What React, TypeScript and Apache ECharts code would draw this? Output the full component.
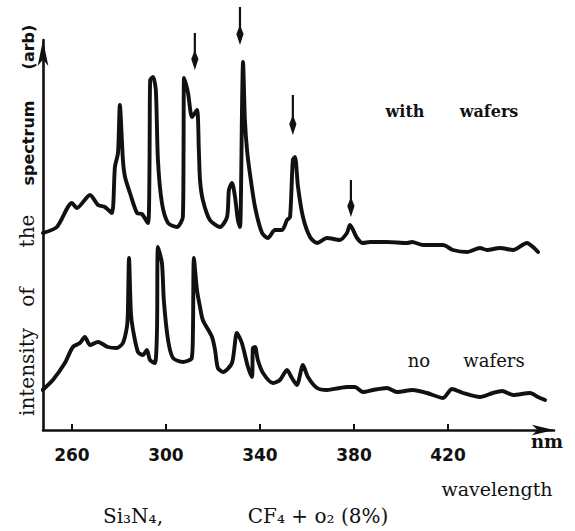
import React, { useEffect, useRef } from "react";
import * as echarts from "echarts";

// wavelength (nm) and intensity (arb)
const withWavelength = [247.7, 253.6, 260.0, 262.1, 267.7, 271.1, 274.0, 277.0, 278.3, 279.6, 280.4, 281.7, 282.6, 284.7, 287.7, 289.8, 292.3, 292.9, 293.1, 293.3, 294.5, 295.7, 296.6, 298.3, 300.9, 304.7, 307.2, 307.5, 307.7, 309.4, 311.1, 313.2, 314.0, 314.5, 315.7, 318.7, 323.0, 326.0, 326.8, 328.1, 329.4, 330.6, 331.5, 331.9, 332.3, 332.8, 333.6, 334.5, 335.7, 337.9, 340.9, 343.4, 346.4, 349.4, 351.5, 352.8, 354.0, 354.9, 356.2, 358.3, 361.3, 364.3, 368.5, 374.0, 377.0, 378.3, 381.3, 383.8, 386.8, 394.0, 402.6, 404.7, 409.4, 417.9, 422.1, 428.1, 433.6, 436.6, 442.1, 447.7, 453.6, 456.2, 458.3];
const withIntensity = [197, 203, 227, 222, 235, 225, 223, 217, 263, 277, 325, 270, 253, 237, 217, 216, 207, 237, 303, 350, 353, 340, 270, 227, 207, 203, 213, 280, 352, 337, 313, 320, 280, 250, 230, 210, 203, 213, 240, 247, 233, 210, 203, 230, 310, 368, 310, 280, 257, 223, 197, 192, 200, 200, 210, 213, 270, 273, 243, 213, 193, 187, 192, 190, 197, 205, 192, 187, 188, 188, 187, 188, 185, 185, 180, 178, 182, 180, 182, 180, 187, 183, 178];

const noWavelength = [247.5, 251.9, 257.0, 260.4, 263.4, 265.5, 267.7, 271.1, 275.3, 279.1, 281.7, 283.4, 283.8, 284.3, 285.1, 286.0, 288.1, 290.2, 291.9, 293.2, 295.3, 296.2, 296.6, 298.3, 299.1, 300.9, 303.0, 307.2, 311.0, 311.5, 311.9, 313.2, 314.5, 315.7, 319.6, 320.9, 322.1, 324.3, 328.1, 330.2, 332.3, 334.9, 336.6, 337.0, 337.9, 339.1, 341.3, 345.5, 348.5, 351.5, 353.6, 355.7, 358.3, 360.4, 364.3, 368.5, 374.0, 377.0, 380.4, 383.8, 388.1, 394.0, 398.3, 405.1, 411.1, 417.9, 421.7, 426.4, 433.6, 439.1, 443.0, 447.7, 454.9, 458.3, 461.3];
const noIntensity = [40, 50, 67, 83, 87, 93, 85, 88, 83, 82, 87, 103, 117, 172, 117, 100, 78, 75, 80, 70, 67, 100, 183, 167, 130, 90, 72, 68, 72, 100, 172, 140, 123, 110, 93, 80, 62, 58, 67, 97, 87, 63, 53, 82, 83, 70, 57, 47, 50, 60, 52, 45, 65, 53, 42, 40, 42, 43, 43, 38, 40, 42, 38, 40, 37, 32, 41, 37, 33, 37, 39, 35, 37, 33, 30];

// arrows marking lines in the "with wafers" spectrum
const arrowWavelength = [312.3, 331.5, 354.0, 378.7];
const arrowTop = [397, 423, 335, 250];
const arrowTip = [360, 385, 295, 213];

const tickValues = [260, 300, 340, 380, 420];

const X_MIN = 247.7;
const X_MAX = 465.1;
const Y_MAX = 390;

export default function App() {
  const ref = useRef<HTMLDivElement>(null);

  useEffect(() => {
    if (!ref.current) return;
    const chart = echarts.init(ref.current, null, { renderer: "svg" });

    const withData = withWavelength.map((x, i) => [x, withIntensity[i]]);
    const noData = noWavelength.map((x, i) => [x, noIntensity[i]]);
    const arrowData = arrowWavelength.map((x, i) => [x, arrowTop[i], arrowTip[i]]);

    const serif = "DejaVu Serif";
    const vText = (text: string, x: number, y: number, font: string, size: number, weight: string) => ({
      type: "text",
      x,
      y,
      rotation: Math.PI / 2,
      style: {
        text,
        fill: "#111",
        fontFamily: font,
        fontSize: size,
        fontWeight: weight,
        align: "center",
        verticalAlign: "middle",
      },
    });
    const hText = (text: string, x: number, y: number, size: number, weight: string, font = serif) => ({
      type: "text",
      x,
      y,
      style: {
        text,
        fill: "#111",
        fontFamily: font,
        fontSize: size,
        fontWeight: weight,
        align: "center",
        verticalAlign: "middle",
      },
    });

    chart.setOption({
      animation: false,
      backgroundColor: "#fff",
      grid: { left: 43, right: 21, top: 40, bottom: 101, containLabel: false },
      xAxis: {
        type: "value",
        min: X_MIN,
        max: X_MAX,
        splitLine: { show: false },
        axisLine: {
          show: true,
          symbol: ["none", "arrow"],
          symbolSize: [8, 22],
          lineStyle: { color: "#111", width: 2.6 },
        },
        axisTick: {
          show: true,
          inside: true,
          length: 6,
          customValues: tickValues,
          lineStyle: { color: "#111", width: 2 },
        },
        axisLabel: {
          show: true,
          customValues: tickValues,
          margin: 16,
          color: "#111",
          fontFamily: "DejaVu Sans",
          fontWeight: "bold",
          fontSize: 17,
        },
      },
      yAxis: {
        type: "value",
        min: 0,
        max: Y_MAX,
        splitLine: { show: false },
        axisTick: { show: false },
        axisLabel: { show: false },
        axisLine: {
          show: true,
          symbol: ["none", "arrow"],
          symbolSize: [8, 26],
          lineStyle: { color: "#111", width: 2.6 },
        },
      },
      series: [
        {
          type: "line",
          name: "with wafers",
          data: withData,
          showSymbol: false,
          smooth: 0.25,
          clip: false,
          lineStyle: { color: "#111", width: 3.9, join: "round", cap: "round" },
        },
        {
          type: "line",
          name: "no wafers",
          data: noData,
          showSymbol: false,
          smooth: 0.25,
          clip: false,
          lineStyle: { color: "#111", width: 3.9, join: "round", cap: "round" },
        },
        {
          type: "custom",
          name: "arrows",
          data: arrowData,
          clip: false,
          renderItem: (_params: any, api: any) => {
            const x = api.value(0);
            const p1 = api.coord([x, api.value(1)]);
            const p2 = api.coord([x, api.value(2)]);
            const headLen = 20;
            const headW = 3.6;
            return {
              type: "group",
              children: [
                {
                  type: "line",
                  shape: { x1: p1[0], y1: p1[1], x2: p2[0], y2: p2[1] - headLen + 4 },
                  style: { stroke: "#111", lineWidth: 2.2 },
                },
                {
                  type: "polygon",
                  shape: {
                    points: [
                      [p2[0], p2[1] - headLen],
                      [p2[0] + headW, p2[1] - headLen * 0.55],
                      [p2[0], p2[1]],
                      [p2[0] - headW, p2[1] - headLen * 0.55],
                    ],
                  },
                  style: { fill: "#111" },
                },
              ],
            };
          },
        },
      ],
      graphic: [
        vText("intensity", 27, 372, serif, 20, "normal"),
        vText("of", 27, 297, serif, 20, "normal"),
        vText("the", 27, 231, serif, 20, "normal"),
        vText("spectrum", 28, 143, "DejaVu Sans", 16, "bold"),
        vText("(arb)", 28, 47, "DejaVu Sans", 16, "bold"),
        hText("with", 405, 111, 16, "bold"),
        hText("wafers", 489, 111, 16, "bold"),
        hText("no", 419, 360, 18, "normal"),
        hText("wafers", 494, 360, 18, "normal"),
        hText("nm", 547, 441, 18, "bold"),
        hText("wavelength", 497, 489, 19, "normal"),
        hText("Si₃N₄,", 133, 516, 20, "normal"),
        hText("CF₄ + o₂ (8%)", 318, 516, 20, "normal"),
      ],
    });

    return () => {
      chart.dispose();
    };
  }, []);

  return (
    <div
      ref={ref}
      style={{ position: "fixed", left: 0, top: 0, width: 575, height: 531, background: "#fff" }}
    />
  );
}
